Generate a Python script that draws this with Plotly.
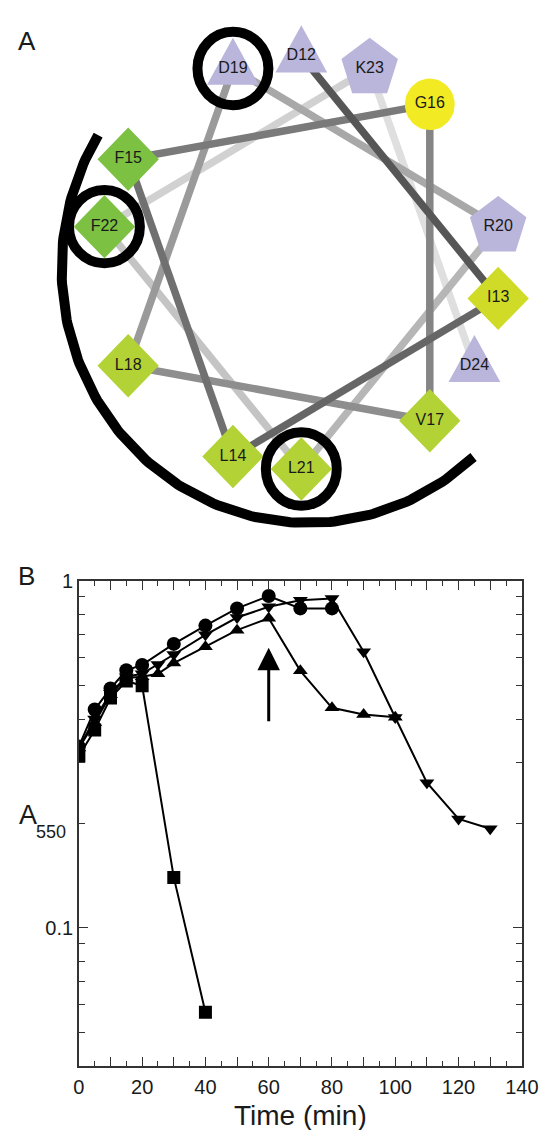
import math
import numpy as np
import plotly.graph_objects as go

# ---------------- Panel A data (helical wheel, residues 12-24) ----------------
residues = ["D12", "I13", "L14", "F15", "G16", "V17", "L18", "D19", "R20", "L21", "F22", "K23", "D24"]
residue_shape = ["triangle", "diamond", "diamond", "diamond", "circle", "diamond", "diamond",
                 "triangle", "pentagon", "diamond", "diamond", "pentagon", "triangle"]
residue_color = ["#b9b5db", "#cfdb27", "#b3d235", "#7cc142", "#f2ea22", "#b3d235", "#b3d235",
                 "#b9b5db", "#b9b5db", "#b3d235", "#7cc142", "#b9b5db", "#b9b5db"]
link_gray = ["#565656", "#666666", "#707070", "#7a7a7a", "#858585", "#8e8e8e",
             "#9a9a9a", "#a8a8a8", "#b6b6b6", "#c4c4c4", "#d1d1d1", "#dfdfdf"]
ringed = ["D19", "F22", "L21"]
step_deg = 100  # angular step between consecutive residues

# ---------------- Panel B data ----------------
t_square = [0, 5, 10, 15, 20, 30, 40]
a_square = [0.313, 0.372, 0.46, 0.515, 0.499, 0.1397, 0.057]

t_circle = [0, 5, 10, 15, 20, 30, 40, 50, 60, 70, 80]
a_circle = [0.333, 0.426, 0.49, 0.553, 0.573, 0.659, 0.744, 0.834, 0.906, 0.834, 0.834]

t_up = [0, 5, 10, 15, 20, 25, 30, 40, 50, 60, 70, 80, 90, 100]
a_up = [0.33, 0.39, 0.47, 0.525, 0.53, 0.54, 0.58, 0.647, 0.722, 0.781, 0.551, 0.431, 0.412, 0.405]

t_down = [0, 5, 10, 15, 20, 25, 30, 40, 50, 60, 70, 80, 90, 100, 110, 120, 130]
a_down = [0.33, 0.40, 0.475, 0.53, 0.54, 0.575, 0.614, 0.70, 0.785, 0.843, 0.881, 0.891,
          0.625, 0.404, 0.262, 0.206, 0.193]

x_tickvals = list(range(0, 141, 10))
x_ticktext = [str(v) if v % 20 == 0 else "" for v in x_tickvals]
x_minor = list(range(5, 140, 10))
y_tickvals = [0.1, 1]
y_ticktext = ["0.1", "1"]
y_minor = [0.05, 0.06, 0.07, 0.08, 0.09, 0.2, 0.3, 0.4, 0.5, 0.6, 0.7, 0.8, 0.9]
arrow_time, arrow_tip, arrow_tail = 60, 0.642, 0.39

# ---------------- layout constants ----------------
W, H = 558, 1130
FONT = "Liberation Sans, Arial, sans-serif"
PANEL_A_H = 560
WHEEL_CX, WHEEL_CY, WHEEL_R = 308.0, 254.0, 208.5
ARC_CX, ARC_CY, ARC_R = 315.0, 260.0, 257.0
ARC_FROM, ARC_TO = 137.8, 301.6
RING_R = 37


def px(x):
    return x / W


def py(y):
    return 1 - y / H


def wheel_xy(i):
    th = math.radians(step_deg * i)
    return WHEEL_CX + WHEEL_R * math.sin(th), WHEEL_CY - WHEEL_R * math.cos(th)


def outline(kind):
    if kind == "triangle":
        return [(0, -31), (27, 16.5), (-27, 16.5), (0, -31)]
    if kind == "diamond":
        return [(0, -32), (32, 0), (0, 32), (-32, 0), (0, -32)]
    if kind == "pentagon":
        r = 31
        return [(r * math.cos(math.radians(-90 + 72 * k)), r * math.sin(math.radians(-90 + 72 * k)))
                for k in range(6)]
    r = 26
    return [(r * math.cos(2 * math.pi * k / 48), r * math.sin(2 * math.pi * k / 48)) for k in range(49)]


pos = [wheel_xy(i) for i in range(len(residues))]

fig = go.Figure()

# connecting lines (lightest first so darker ones lie on top)
for k in reversed(range(len(residues) - 1)):
    (x0, y0), (x1, y1) = pos[k], pos[k + 1]
    fig.add_trace(go.Scatter(x=[x0, x1], y=[y0, y1], mode="lines",
                             line=dict(color=link_gray[k], width=7.5),
                             xaxis="x2", yaxis="y2", hoverinfo="skip"))

# residue shapes grouped by colour
for col in dict.fromkeys(residue_color):
    xs, ys = [], []
    for (cx, cy), kind, c in zip(pos, residue_shape, residue_color):
        if c != col:
            continue
        for dx, dy in outline(kind):
            xs.append(cx + dx)
            ys.append(cy + dy)
        xs.append(None)
        ys.append(None)
    fig.add_trace(go.Scatter(x=xs, y=ys, mode="lines", fill="toself", fillcolor=col,
                             line=dict(width=0, color=col), xaxis="x2", yaxis="y2",
                             hoverinfo="skip"))

# residue labels
fig.add_trace(go.Scatter(x=[p[0] for p in pos], y=[p[1] for p in pos], mode="text",
                         text=residues, textposition="middle center",
                         textfont=dict(size=16, color="#1a1a1a", family=FONT),
                         xaxis="x2", yaxis="y2", hoverinfo="skip"))

# hydrophobic face arc
th = np.radians(np.linspace(ARC_FROM, ARC_TO, 160))
fig.add_trace(go.Scatter(x=ARC_CX + ARC_R * np.sin(th), y=ARC_CY - ARC_R * np.cos(th),
                         mode="lines", line=dict(color="black", width=10),
                         xaxis="x2", yaxis="y2", hoverinfo="skip"))

shapes = []
for name in ringed:
    cx, cy = pos[residues.index(name)]
    shapes.append(dict(type="circle", xref="x2", yref="y2",
                       x0=cx - RING_R, x1=cx + RING_R, y0=cy - RING_R, y1=cy + RING_R,
                       line=dict(color="black", width=10), layer="above"))

# ---------------- Panel B traces ----------------
series = [
    (t_square, a_square, "square", 13),
    (t_circle, a_circle, "circle", 14),
    (t_up, a_up, "triangle-up", 13),
    (t_down, a_down, "triangle-down", 13),
]
for t, a, sym, sz in series:
    fig.add_trace(go.Scatter(x=t, y=a, mode="lines+markers",
                             line=dict(color="black", width=2),
                             marker=dict(symbol=sym, size=sz, color="black"),
                             xaxis="x", yaxis="y"))

axis_common = dict(showline=True, linecolor="#333333", linewidth=1.5, mirror="ticks",
                   ticks="inside", tickcolor="#333333", tickwidth=1.3, showgrid=False,
                   zeroline=False, tickfont=dict(size=20, color="#1a1a1a", family=FONT))


def label(x, y, text, size):
    return dict(x=px(x), y=py(y), xref="paper", yref="paper", text=text, showarrow=False,
                xanchor="center", yanchor="middle",
                font=dict(size=size, color="#1a1a1a", family=FONT))


annotations = [
    dict(x=arrow_time, y=math.log10(arrow_tip), ax=arrow_time, ay=math.log10(arrow_tail),
         xref="x", yref="y", axref="x", ayref="y", text="", showarrow=True,
         arrowhead=2, arrowsize=1.5, arrowwidth=3, arrowcolor="black", standoff=0),
    label(22, 30, "A", 26),
    label(21, 571, "B", 26),
    label(23, 812, "A", 27),
    label(47, 829, "550", 18),
    label(307, 1115, "Time (min)", 28),
]

fig.update_layout(
    width=W, height=H, margin=dict(l=0, r=0, t=0, b=0),
    paper_bgcolor="white", plot_bgcolor="rgba(0,0,0,0)",
    showlegend=False, hovermode=False, font=dict(family=FONT),
    xaxis=dict(domain=[px(76), px(538)], range=[0, 140], anchor="y",
               tickmode="array", tickvals=x_tickvals, ticktext=x_ticktext, ticklen=9,
               ticklabelstandoff=3,
               minor=dict(tickvals=x_minor, ticks="inside", ticklen=5, tickwidth=1.3,
                          tickcolor="#333333"),
               **axis_common),
    yaxis=dict(domain=[py(1065), py(575.7)], type="log", range=[math.log10(0.04), 0], anchor="x",
               tickmode="array", tickvals=y_tickvals, ticktext=y_ticktext, ticklen=9,
               minor=dict(tickvals=y_minor, ticks="inside", ticklen=6, tickwidth=1.3,
                          tickcolor="#333333"),
               **axis_common),
    xaxis2=dict(domain=[0, 1], range=[0, W], visible=False, anchor="y2"),
    yaxis2=dict(domain=[py(PANEL_A_H), 1], range=[PANEL_A_H, 0], visible=False, anchor="x2"),
    shapes=shapes,
    annotations=annotations,
)

fig.write_html("out.html")
